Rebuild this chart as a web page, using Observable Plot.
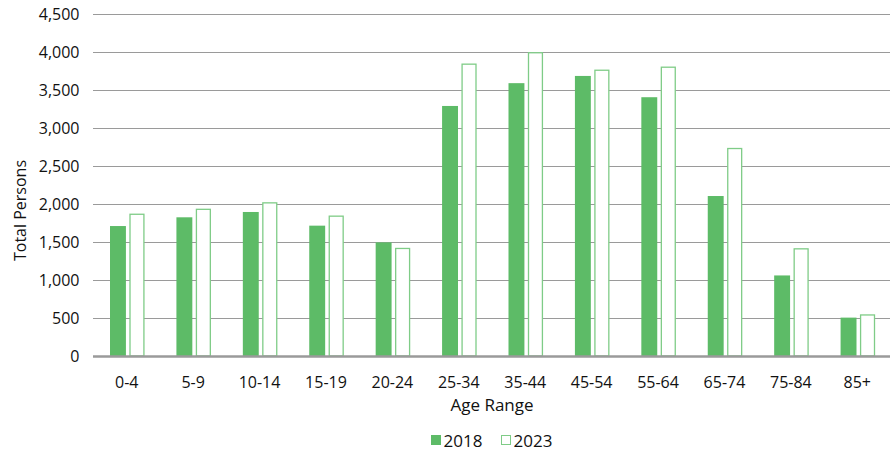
<!DOCTYPE html>
<html>
<head>
<meta charset="utf-8">
<script src="https://cdn.jsdelivr.net/npm/d3@7"></script>
<script src="https://cdn.jsdelivr.net/npm/@observablehq/plot@0.6"></script>
<style>
  body { margin: 0; background: #fff; font-family: "Open Sans", "Noto Sans", sans-serif; }
  #chart svg { display: block; }
  .legend { display: flex; justify-content: center; align-items: center; gap: 18px;
            height: 20px; margin-top: 10px; font-size: 17px; color: #111; padding-left: 92px; }
  .legend span { display: inline-flex; align-items: center; gap: 3px; }
  .sw { display: inline-block; width: 10px; height: 10px; box-sizing: border-box; }
</style>
</head>
<body>
<div id="chart"></div>
<div class="legend" id="legend"></div>
<script>
const ageRanges = ["0-4", "5-9", "10-14", "15-19", "20-24", "25-34", "35-44", "45-54", "55-64", "65-74", "75-84", "85+"];
const persons2018 = [1710, 1825, 1895, 1715, 1495, 3290, 3590, 3685, 3405, 2105, 1060, 505];
const persons2023 = [1865, 1930, 2015, 1840, 1415, 3840, 3990, 3760, 3800, 2730, 1410, 540];
const yTicks = [0, 500, 1000, 1500, 2000, 2500, 3000, 3500, 4000, 4500];

const green = "#5dbb67";
const lightGreen = "#7fcc87";

const rows2018 = ageRanges.map((age, i) => ({age, value: persons2018[i]}));
const rows2023 = ageRanges.map((age, i) => ({age, value: persons2023[i]}));

const chart = Plot.plot({
  width: 891,
  height: 420,
  marginLeft: 93,
  marginRight: 1,
  marginTop: 14,
  marginBottom: 64,
  style: { fontFamily: "'Open Sans', 'Noto Sans', sans-serif", fontSize: "16px", color: "#111", background: "#fff" },
  x: { domain: ageRanges, padding: 0, round: false, label: null, tickSize: 0, tickPadding: 20 },
  y: { domain: [0, 4500], ticks: yTicks, tickFormat: d3.format(","), label: null, tickSize: 0, tickPadding: 14 },
  marks: [
    Plot.ruleY(yTicks.filter(d => d > 0), { stroke: "#9a9a9a", strokeWidth: 1 }),
    Plot.barY(rows2018, { x: "age", y: "value", fill: green, insetLeft: 17, insetRight: 33.5 }),
    Plot.barY(rows2023, { x: "age", y: "value", fill: "#fff", stroke: lightGreen, strokeWidth: 1.3, insetLeft: 37, insetRight: 15.5 }),
    Plot.ruleY([0], { stroke: "#9a9a9a", strokeWidth: 2.5 }),
    Plot.text(["Age Range"], { frameAnchor: "bottom", lineAnchor: "middle", dy: 49, fontSize: 17 }),
    Plot.text(["Total Persons"], { frameAnchor: "left", textAnchor: "middle", lineAnchor: "middle", dx: -73, dy: 25, rotate: -90, fontSize: 16 })
  ]
});
document.getElementById("chart").append(chart);

const legendItems = [
  { label: "2018", fill: green, stroke: green },
  { label: "2023", fill: "#fff", stroke: lightGreen }
];
const legend = document.getElementById("legend");
for (const item of legendItems) {
  const s = document.createElement("span");
  const sw = document.createElement("i");
  sw.className = "sw";
  sw.style.background = item.fill;
  sw.style.border = `1.5px solid ${item.stroke}`;
  s.append(sw, item.label);
  legend.append(s);
}
</script>
</body>
</html>
